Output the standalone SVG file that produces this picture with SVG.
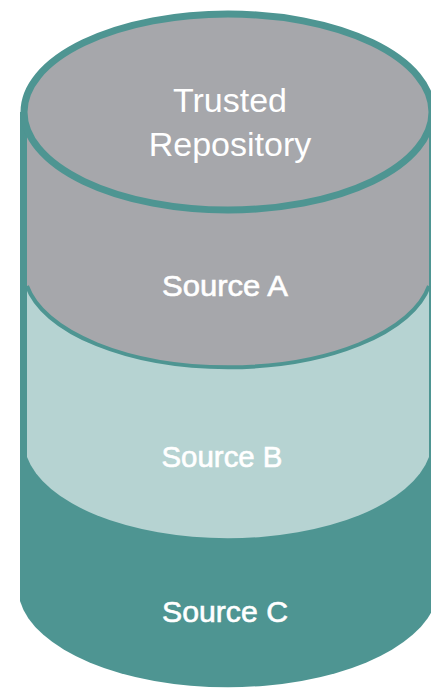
<svg xmlns="http://www.w3.org/2000/svg" width="431" height="689" viewBox="0 0 431 689">
  <style>
    .lbl { fill: #ffffff; font-family: "Liberation Sans", Arial, sans-serif; text-anchor: middle; }
    .src { font-size: 29px; stroke: #ffffff; stroke-width: 0.6; }
    .title { font-size: 34px; }
    .teal { fill: #4e9592; }
    .light { fill: #b6d3d2; }
    .grey { fill: #a6a7ab; }
  </style>
  <rect width="431" height="689" fill="#ffffff"/>
  <g id="source-c">
    <path class="teal" d="M20,112 L20,601 A210,100 0 0 0 436,601 L436,112 Z"/>
    <text class="lbl src" x="225" y="622" textLength="126" lengthAdjust="spacingAndGlyphs">Source C</text>
  </g>
  <g id="source-b">
    <path class="light" d="M27,112 L27,457 A204,98 0 0 0 429,457 L429,112 Z"/>
    <text class="lbl src" x="222" y="467" textLength="121" lengthAdjust="spacingAndGlyphs">Source B</text>
  </g>
  <g id="source-a">
    <path class="grey" d="M27,112 L27,286 A204,98 0 0 0 429,286 L429,112 Z"/>
    <path d="M27,286 A204,98 0 0 0 429,286" fill="none" stroke="#4e9592" stroke-width="4"/>
    <text class="lbl src" x="225" y="296" textLength="126" lengthAdjust="spacingAndGlyphs">Source A</text>
  </g>
  <g id="trusted-repository">
    <ellipse cx="228" cy="112" rx="204" ry="98" fill="#a6a7ab" stroke="#4e9592" stroke-width="7"/>
    <text class="lbl title" x="230" y="112">Trusted</text>
    <text class="lbl title" x="230" y="156">Repository</text>
  </g>
  <g id="connectors"/>
</svg>
